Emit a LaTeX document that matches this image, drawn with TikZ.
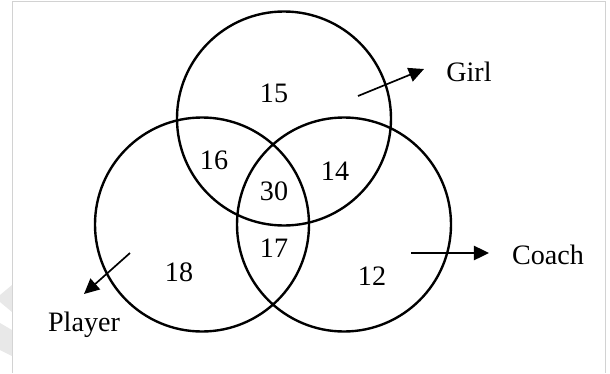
\documentclass[tikz,border=0pt]{standalone}
\usepackage{fontspec}
\setmainfont{Liberation Serif}
\usepackage{tikz}
\usetikzlibrary{arrows.meta}
\definecolor{framegray}{RGB}{210,210,210}
\definecolor{markgray}{RGB}{232,232,232}

\begin{document}
\begin{tikzpicture}[
    set/.style={line width=1.7pt},
    num/.style={inner sep=0pt, font=\fontsize{20}{24}\selectfont},
    arr/.style={-{Triangle[length=0.38cm, width=0.36cm]}, line width=1.2pt}
]
\useasboundingbox (0,0) rectangle (15.25,-9.325);
% page frame and watermark
\draw[framegray, line width=0.6pt] (0.3,-9.325) -- (0.3,-0.025) -- (15.125,-0.025) -- (15.125,-9.325);
\fill[markgray] (0.3,-7.125) -- (0,-7.375) -- (0,-7.55) -- (0.3,-7.8) -- cycle;
\fill[markgray] (0,-8.075) -- (0.3,-8.25) -- (0.3,-8.9) -- (0,-8.75) -- cycle;

% the three sets
\coordinate (cgirl) at (7.10,-2.9625);
\coordinate (cplayer) at (5.05,-5.6125);
\coordinate (ccoach) at (8.60,-5.6125);
\draw[set] (cgirl) circle[radius=2.675];
\draw[set] (cplayer) circle[radius=2.675];
\draw[set] (ccoach) circle[radius=2.675];

% region counts
\node[num] (g) at (6.85,-2.325) {15};
\node[num] (gp) at (5.35,-4.0) {16};
\node[num] (gc) at (8.375,-4.275) {14};
\node[num] (all) at (6.85,-4.775) {30};
\node[num] (pc) at (6.85,-6.2) {17};
\node[num] (p) at (4.475,-6.8) {18};
\node[num] (c) at (9.3,-6.9) {12};

% set names
\node[num] (girl) at (11.725,-1.8) {Girl};
\node[num] (coach) at (13.7,-6.375) {Coach};
\node[num] (player) at (2.1,-8.125) {Player};

\coordinate (gtail) at (8.95,-2.4);
\coordinate (ghead) at (10.6,-1.725);
\coordinate (ctail) at (10.275,-6.325);
\coordinate (chead) at (12.225,-6.325);
\coordinate (ptail) at (3.25,-6.325);
\coordinate (phead) at (2.1,-7.35);
\draw[arr] (gtail) -- (ghead);
\draw[arr] (ctail) -- (chead);
\draw[arr] (ptail) -- (phead);
\end{tikzpicture}
\end{document}
